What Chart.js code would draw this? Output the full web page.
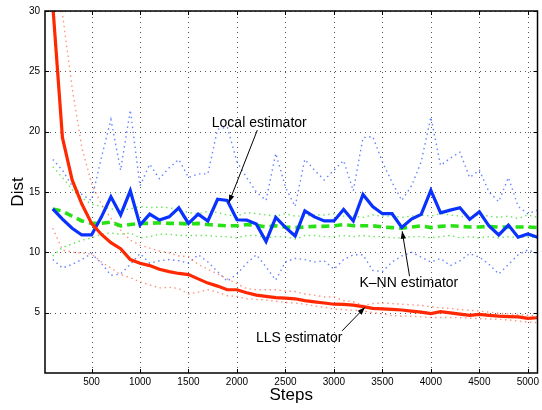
<!DOCTYPE html>
<html>
<head>
<meta charset="utf-8">
<script src="https://cdn.jsdelivr.net/npm/chart.js@4.4.1/dist/chart.umd.min.js"></script>
<style>
  html, body { margin: 0; padding: 0; background: #fff; }
  #wrap { width: 542px; height: 410px; position: relative; }
</style>
</head>
<body>
<div id="wrap"><canvas id="chart"></canvas></div>
<script>
const steps = [100, 200, 300, 400, 500, 600, 700, 800, 900, 1000, 1100, 1200, 1300, 1400, 1500, 1600, 1700, 1800, 1900, 2000,
  2100, 2200, 2300, 2400, 2500, 2600, 2700, 2800, 2900, 3000, 3100, 3200, 3300, 3400, 3500, 3600, 3700, 3800, 3900, 4000,
  4100, 4200, 4300, 4400, 4500, 4600, 4700, 4800, 4900, 5000, 5100];

// LLS estimator (red) + dotted bounds
const llsMean = [30.5, 19.5, 16.0, 14.0, 12.4, 11.5, 10.8, 10.3, 9.4, 9.1, 8.9, 8.6, 8.4, 8.25, 8.15, 7.8, 7.45, 7.2, 6.9, 6.9,
  6.65, 6.45, 6.35, 6.25, 6.2, 6.15, 6.0, 5.9, 5.8, 5.7, 5.68, 5.62, 5.5, 5.35, 5.32, 5.28, 5.22, 5.13, 5.05, 4.92,
  5.08, 4.98, 4.88, 4.78, 4.85, 4.78, 4.72, 4.68, 4.65, 4.53, 4.58];
const llsUpper = [42, 29.8, 23.6, 18.7, 15.7, 14.0, 12.8, 11.85, 11.0, 10.6, 10.35, 10.1, 9.95, 9.7, 9.65, 9.0, 8.6, 8.2, 7.8, 7.4,
  7.0, 6.9, 6.9, 6.9, 6.8, 6.75, 6.55, 6.45, 6.3, 6.3, 6.0, 5.9, 5.6, 5.75, 5.8, 5.75, 5.7, 5.65, 5.6, 5.5,
  5.4, 5.35, 5.25, 5.2, 5.13, 5.05, 4.95, 4.9, 4.85, 4.78, 4.72];
const llsLower = [12.0, 10.2, 10.0, 9.95, 9.85, 9.2, 8.7, 8.15, 7.9, 7.55, 7.3, 7.05, 7.1, 7.0, 6.55, 6.7, 6.9, 6.7, 6.4, 6.35,
  6.15, 6.1, 6.05, 5.95, 5.85, 5.8, 5.7, 5.55, 5.45, 5.3, 5.25, 5.2, 5.15, 5.0, 4.9, 4.75, 4.72, 4.7, 4.65, 4.6,
  4.6, 4.6, 4.58, 4.55, 4.5, 4.48, 4.45, 4.4, 4.3, 4.22, 4.18];

// Local estimator (blue) + dotted bounds
const localMean = [13.6, 12.75, 12.0, 11.44, 11.44, 12.9, 14.6, 13.1, 15.1, 12.26, 13.17, 12.67, 12.94, 13.69, 12.4, 13.17, 12.6, 14.4, 14.3, 12.7,
  12.67, 12.34, 10.9, 12.9, 12.07, 11.36, 13.44, 12.94, 12.6, 12.6, 13.55, 12.6, 14.8, 13.8, 13.2, 13.2, 12.07, 12.75, 13.14, 15.14,
  13.27, 13.5, 13.7, 12.73, 13.36, 12.18, 11.44, 12.26, 11.25, 11.52, 11.25];
const localUpper = [17.7, 16.8, 15.5, 14.8, 14.3, 17.8, 21.0, 16.8, 21.8, 15.5, 17.3, 16.1, 17.0, 17.7, 16.2, 16.5, 16.5, 20.2, 20.4, 17.5,
  16.2, 15.0, 14.3, 18.2, 15.4, 13.8, 17.7, 16.8, 16.0, 16.8, 17.6, 15.1, 19.5, 19.6, 17.5, 15.8, 14.3, 15.5, 17.5, 21.2,
  17.2, 17.8, 18.3, 16.2, 16.8, 15.0, 14.2, 16.2, 13.8, 13.2, 13.5];
const localLower = [9.4, 8.7, 9.0, 9.4, 9.9, 9.1, 8.1, 8.2, 9.0, 9.9, 9.1, 9.3, 9.4, 9.3, 9.1, 9.8, 9.2, 8.4, 7.6, 8.2,
  9.1, 9.8, 8.8, 7.7, 9.2, 9.5, 9.4, 9.2, 9.3, 8.6, 9.4, 9.8, 9.8, 8.5, 8.4, 9.2, 9.7, 10.0, 9.6, 9.2,
  9.5, 8.9, 9.3, 9.9, 9.6, 9.0, 8.2, 9.0, 9.8, 10.2, 9.9];

// K-NN estimator (green) + dotted bounds
const knnMean = [13.6, 13.4, 13.0, 12.6, 12.4, 12.4, 12.5, 12.2, 12.3, 12.4, 12.4, 12.45, 12.4, 12.4, 12.35, 12.4, 12.3, 12.25, 12.2, 12.2,
  12.3, 12.25, 12.1, 12.2, 12.1, 12.05, 12.1, 12.15, 12.15, 12.2, 12.3, 12.2, 12.2, 12.2, 12.1, 12.05, 12.0, 12.1, 12.2, 12.05,
  12.15, 12.2, 12.15, 12.1, 12.1, 12.15, 12.1, 12.1, 12.1, 12.1, 12.05];
const knnUpper = [17.1, 16.2, 15.2, 14.5, 14.0, 13.8, 13.6, 13.5, 13.6, 13.8, 13.7, 13.75, 13.7, 13.5, 13.3, 13.2, 13.4, 13.3, 13.1, 13.0,
  13.3, 13.2, 13.1, 13.0, 13.2, 13.0, 13.0, 13.1, 13.1, 13.2, 13.0, 13.0, 12.9, 13.1, 13.0, 13.0, 12.9, 13.0, 13.1, 13.0,
  13.2, 13.1, 13.0, 12.9, 13.1, 13.0, 12.9, 13.0, 12.8, 13.1, 12.9];
const knnLower = [9.7, 10.4, 10.7, 11.0, 11.2, 11.5, 11.6, 11.5, 11.6, 11.2, 11.3, 11.5, 11.5, 11.4, 11.4, 11.4, 11.4, 11.3, 11.3, 11.2,
  11.4, 11.4, 11.2, 11.3, 11.3, 11.1, 11.4, 11.4, 11.3, 11.3, 11.4, 11.3, 11.4, 11.3, 11.3, 11.2, 11.2, 11.3, 11.3, 11.2,
  11.3, 11.4, 11.2, 11.3, 11.2, 11.3, 11.2, 11.3, 11.2, 11.3, 11.2];

const xTicks = [500, 1000, 1500, 2000, 2500, 3000, 3500, 4000, 4500, 5000];
const yTicks = [5, 10, 15, 20, 25, 30];

// text label, text position, arrow tail, arrow head (data units)
const notes = [
  { text: 'Local estimator', tx: 2230, ty: 20.71, ax: 2210, ay: 20.13, hx: 1917, hy: 14.12 },
  { text: 'K\u2013NN estimator', tx: 3773, ty: 7.44, ax: 3780, ay: 8.02, hx: 3704, hy: 11.75 },
  { text: 'LLS estimator', tx: 2642, ty: 2.91, ax: 3084, ay: 3.49, hx: 3320, hy: 5.44 },
];

const FONT = '"Liberation Sans", Arial, Helvetica, sans-serif';
const DOT = [1.5, 3.5];
const pts = (arr) => steps.map((s, i) => ({ x: s, y: arr[i] }));

const line = (arr, color, width, dash, order) => ({
  data: pts(arr), borderColor: color, borderWidth: width, borderDash: dash,
  pointRadius: 0, tension: 0, fill: false, order,
});

// dotted matlab-style grid, drawn under the data
const dottedGrid = {
  id: 'dottedGrid',
  beforeDatasetsDraw(chart) {
    const { ctx, chartArea: a, scales: { x, y } } = chart;
    ctx.save();
    ctx.strokeStyle = '#555';
    ctx.lineWidth = 1;
    ctx.setLineDash([1, 4]);
    ctx.beginPath();
    xTicks.forEach(v => {
      const px = Math.round(x.getPixelForValue(v)) + 0.5;
      ctx.moveTo(px, a.bottom); ctx.lineTo(px, a.top);
    });
    yTicks.forEach(v => {
      const py = Math.round(y.getPixelForValue(v)) + 0.5;
      ctx.moveTo(a.left, py); ctx.lineTo(a.right, py);
    });
    ctx.stroke();
    ctx.restore();
  },
};

// inward ticks, box and annotations
const extras = {
  id: 'extras',
  afterDraw(chart) {
    const { ctx, chartArea: a, scales: { x, y } } = chart;
    ctx.save();
    ctx.strokeStyle = '#000';
    ctx.lineWidth = 1;
    ctx.beginPath();
    xTicks.forEach(v => {
      const px = Math.round(x.getPixelForValue(v)) + 0.5;
      ctx.moveTo(px, a.bottom); ctx.lineTo(px, a.bottom - 4);
      ctx.moveTo(px, a.top); ctx.lineTo(px, a.top + 4);
    });
    yTicks.forEach(v => {
      const py = Math.round(y.getPixelForValue(v)) + 0.5;
      ctx.moveTo(a.left, py); ctx.lineTo(a.left + 4, py);
      ctx.moveTo(a.right, py); ctx.lineTo(a.right - 4, py);
    });
    ctx.stroke();
    ctx.lineWidth = 1.5;
    ctx.strokeRect(a.left, a.top, a.right - a.left, a.bottom - a.top);

    ctx.font = '14px ' + FONT;
    ctx.fillStyle = '#000';
    ctx.textAlign = 'center';
    ctx.textBaseline = 'middle';
    notes.forEach(n => {
      ctx.fillText(n.text, x.getPixelForValue(n.tx), y.getPixelForValue(n.ty));
      const x0 = x.getPixelForValue(n.ax), y0 = y.getPixelForValue(n.ay);
      const x1 = x.getPixelForValue(n.hx), y1 = y.getPixelForValue(n.hy);
      ctx.lineWidth = 1;
      ctx.beginPath(); ctx.moveTo(x0, y0); ctx.lineTo(x1, y1); ctx.stroke();
      const ang = Math.atan2(y1 - y0, x1 - x0);
      ctx.beginPath();
      ctx.moveTo(x1, y1);
      ctx.lineTo(x1 - 8 * Math.cos(ang - 0.35), y1 - 8 * Math.sin(ang - 0.35));
      ctx.lineTo(x1 - 8 * Math.cos(ang + 0.35), y1 - 8 * Math.sin(ang + 0.35));
      ctx.closePath();
      ctx.fill();
    });
    ctx.restore();
  },
};

const gridOpts = { display: false, drawTicks: false };
const borderOpts = { display: false };

new Chart(document.getElementById('chart'), {
  type: 'line',
  data: {
    datasets: [
      line(llsMean, 'rgb(255,40,0)', 3.2, [], 1),
      line(localMean, 'rgb(10,50,255)', 3.2, [], 2),
      line(knnMean, 'rgb(40,225,20)', 3.6, [8, 5], 3),
      line(llsUpper, 'rgba(255,90,60,0.65)', 1.4, DOT, 4),
      line(llsLower, 'rgba(255,90,60,0.65)', 1.4, DOT, 4),
      line(localUpper, 'rgba(40,80,255,0.7)', 1.4, DOT, 4),
      line(localLower, 'rgba(40,80,255,0.7)', 1.4, DOT, 4),
      line(knnUpper, 'rgba(60,220,40,0.75)', 1.4, DOT, 4),
      line(knnLower, 'rgba(60,220,40,0.75)', 1.4, DOT, 4),
    ],
  },
  options: {
    responsive: true,
    maintainAspectRatio: false,
    animation: false,
    layout: { padding: { top: 9, right: 3, left: 0, bottom: 0 } },
    plugins: { legend: { display: false }, tooltip: { enabled: false } },
    scales: {
      x: {
        type: 'linear', min: 20, max: 5100,
        afterFit: (s) => { s.height = 37; },
        afterBuildTicks: (s) => { s.ticks = xTicks.map(v => ({ value: v })); },
        grid: gridOpts,
        border: borderOpts,
        ticks: { padding: 3, color: '#000', font: { family: FONT, size: 10 }, maxRotation: 0, callback: (v) => String(v) },
        title: { display: true, text: 'Steps', color: '#000', font: { family: FONT, size: 17 }, padding: { bottom: 4 } },
      },
      y: {
        min: 0, max: 30,
        afterFit: (s) => { s.width = 45; },
        afterBuildTicks: (s) => { s.ticks = yTicks.map(v => ({ value: v })); },
        grid: gridOpts,
        border: borderOpts,
        ticks: { padding: 5, color: '#000', font: { family: FONT, size: 10 }, callback: (v) => String(v) },
        title: { display: true, text: 'Dist', color: '#000', font: { family: FONT, size: 17 }, padding: { top: 8 } },
      },
    },
  },
  plugins: [dottedGrid, extras],
});
</script>
</body>
</html>
